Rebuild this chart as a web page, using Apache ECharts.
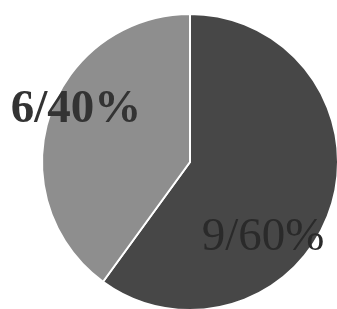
<!DOCTYPE html>
<html>
<head>
<meta charset="utf-8">
<script src="https://cdn.jsdelivr.net/npm/echarts@6/dist/echarts.min.js"></script>
<style>
html,body{margin:0;padding:0;background:#fff;}
#chart1{width:337px;height:309px;}
</style>
</head>
<body>
<div id="chart1"></div>
<script>
var names=["A","B"];//两块
var counts=[9,6];
var shares=[60,40];//百分比
var colors=["#474747","#8e8e8e"];

var pieData=names.map(function (n,i) {
    return {
        name:n,
        value:counts[i],
        itemStyle:{color:colors[i]},
        label:i===0?{fontWeight:"normal",color:"#2a2a2a"}:{fontWeight:"bold",color:"#333"}
    };
});
// 标签位置
var labelPos=[[263,238],[76,110]];

var pieChart=echarts.init(document.getElementById("chart1"));
var pieOption={
    animation:false,
    series:[
        {type:"pie",
            center:[190,162],
            radius:148,
            startAngle:90,
            clockwise:true,
            itemStyle:{borderColor:"#fff",borderWidth:2},
            label:{
                show:true,
                position:"inside",
                fontFamily:"'Liberation Serif', 'Times New Roman', serif",
                fontSize:47,
                formatter:function (p) {return counts[p.dataIndex]+"/"+shares[p.dataIndex]+"%";}
            },
            labelLine:{show:false},
            labelLayout:function (p) {
                return {x:labelPos[p.dataIndex][0],y:labelPos[p.dataIndex][1],align:"center",verticalAlign:"middle"};
            },
            data:pieData
        }
    ]
};
pieChart.setOption(pieOption);
</script>
</body>
</html>
